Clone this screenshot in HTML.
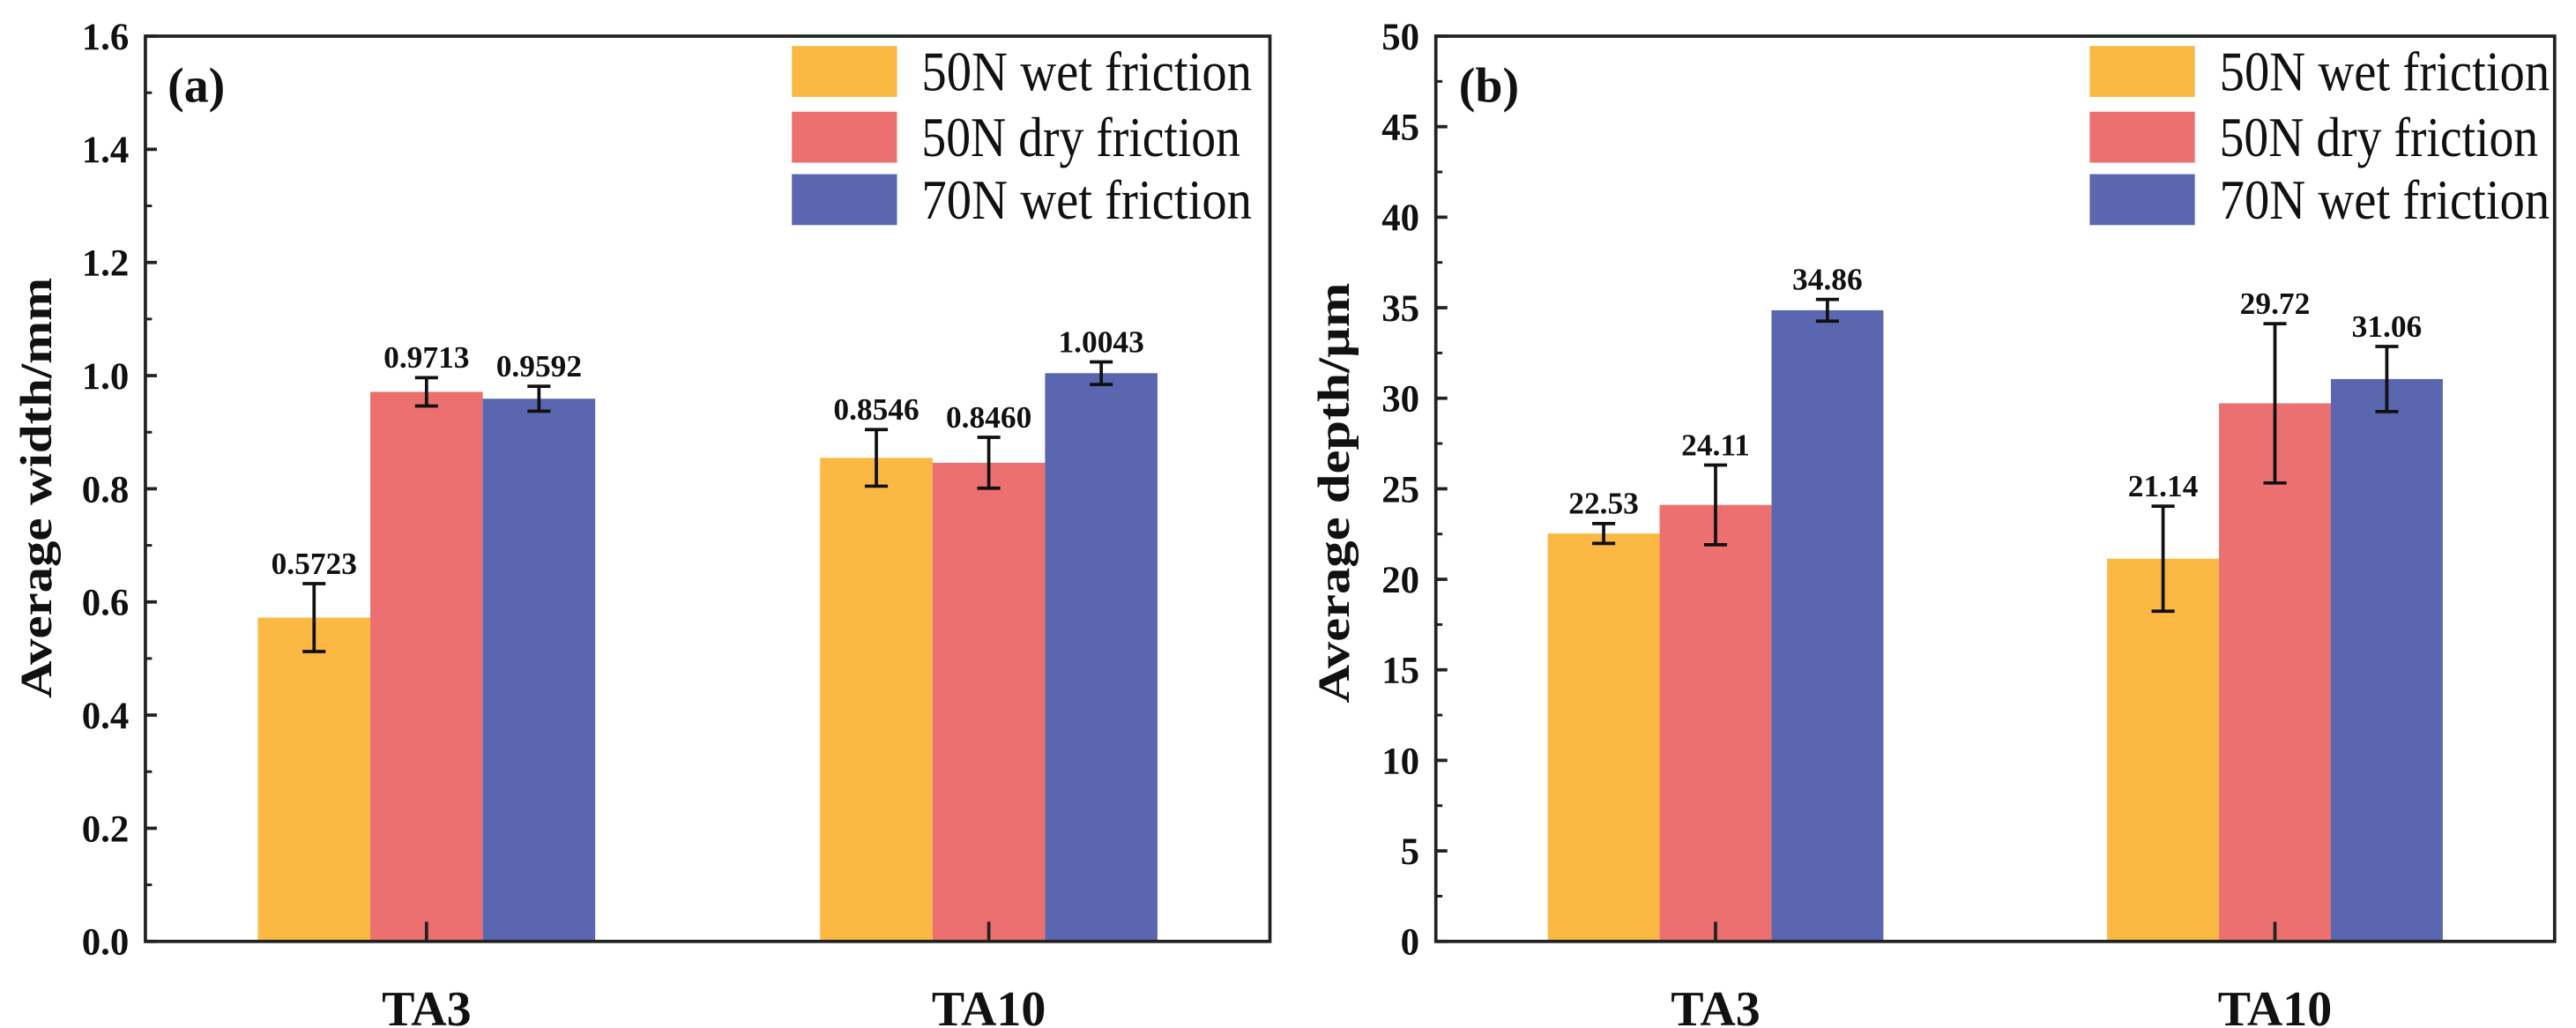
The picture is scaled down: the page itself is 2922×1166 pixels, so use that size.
<!DOCTYPE html>
<html><head><meta charset="utf-8"><style>
html,body{margin:0;padding:0;background:#fff;width:2922px;height:1166px;overflow:hidden}
svg{display:block}
text{font-family:"Liberation Serif",serif}
</style></head><body>
<svg id="chart" width="2922" height="1166" viewBox="0 0 1568 625.7" preserveAspectRatio="none" xmlns="http://www.w3.org/2000/svg"></svg>
<script>
const categories = ["TA3", "TA10"];
const seriesNames = ["50N wet friction", "50N dry friction", "70N wet friction"];
const seriesColors = ["#FBB843", "#EC7070", "#5A67B0"];
const widthValues = [[0.5723, 0.8546], [0.9713, 0.8460], [0.9592, 1.0043]];
const widthErrors = [[0.06, 0.05], [0.025, 0.045], [0.022, 0.02]];
const widthLabels = [["0.5723", "0.8546"], ["0.9713", "0.8460"], ["0.9592", "1.0043"]];
const depthValues = [[22.53, 21.14], [24.11, 29.72], [34.86, 31.06]];
const depthErrors = [[0.55, 2.9], [2.2, 4.4], [0.6, 1.8]];
const depthLabels = [["22.53", "21.14"], ["24.11", "29.72"], ["34.86", "31.06"]];
const widthTicks = ["0.0","0.2","0.4","0.6","0.8","1.0","1.2","1.4","1.6"];
const depthTicks = ["0","5","10","15","20","25","30","35","40","45","50"];

const NS = "http://www.w3.org/2000/svg";
const svg = document.getElementById("chart");
function mk(tag, attrs, parent, txt) {
  const e = document.createElementNS(NS, tag);
  for (const k in attrs) e.setAttribute(k, attrs[k]);
  if (txt !== undefined) e.textContent = txt;
  (parent || svg).appendChild(e);
  return e;
}

function panel(cfg) {
  const g = mk("g", {});
  
  
  const L = cfg.left, R = cfg.right, T = 22, B = 573;
  const W = R - L;
  const y = v => B - (v - cfg.min) / (cfg.max - cfg.min) * (B - T);
  const xc = i => L + W * (0.25 + 0.5 * i);
  const bw = W * 0.1;
  for (let s = 0; s < 3; s++) {
    for (let c = 0; c < categories.length; c++) {
      const v = cfg.values[s][c];
      const x0 = xc(c) + (s - 1) * bw - bw / 2;
      const r = mk("rect", {x: x0, y: y(v), width: bw, height: B - y(v), fill: seriesColors[s]}, g);
      
      
    }
  }
  for (let s = 0; s < 3; s++) {
    for (let c = 0; c < categories.length; c++) {
      const v = cfg.values[s][c], e = cfg.errors[s][c];
      const cx = xc(c) + (s - 1) * bw;
      const eb = mk("g", {stroke: "#111", "stroke-width": 2}, g);
      
      
      mk("line", {x1: cx, x2: cx, y1: y(v + e), y2: y(v - e)}, eb);
      mk("line", {x1: cx - 7, x2: cx + 7, y1: y(v + e), y2: y(v + e)}, eb);
      mk("line", {x1: cx - 7, x2: cx + 7, y1: y(v - e), y2: y(v - e)}, eb);
      const t = mk("text", {x: cx, y: y(v + e) - 6, "text-anchor": "middle", "font-size": 19, "font-weight": "bold", fill: "#111"}, g, cfg.labels[s][c]);
      
      
    }
  }
  const fr = mk("rect", {x: L, y: T, width: W, height: B - T, fill: "none", stroke: "#222", "stroke-width": 2}, g);
  
  
  const n = cfg.ticks.length;
  for (let i = 0; i < n; i++) {
    const v = cfg.min + (cfg.max - cfg.min) * i / (n - 1);
    mk("line", {x1: L, x2: L + 7, y1: y(v), y2: y(v), stroke: "#222", "stroke-width": 2}, g);
    if (i < n - 1) {
      const vm = v + (cfg.max - cfg.min) / (n - 1) / 2;
      mk("line", {x1: L, x2: L + 4, y1: y(vm), y2: y(vm), stroke: "#222", "stroke-width": 1.6}, g);
    }
    const t = mk("text", {x: L - 10, y: y(v) + 8, "text-anchor": "end", "font-size": 23, "font-weight": "bold", fill: "#111"}, g, cfg.ticks[i]);
    
    
  }
  for (let c = 0; c < categories.length; c++) {
    mk("line", {x1: xc(c), x2: xc(c), y1: B, y2: B - 12, stroke: "#222", "stroke-width": 2}, g);
    const t = mk("text", {x: xc(c), y: 624, "text-anchor": "middle", "font-size": 30, "font-weight": "bold", fill: "#111"}, g, categories[c]);
    
    
  }
  const yt = mk("text", {x: 0, y: 0, transform: `translate(${cfg.titleX},${cfg.titleY}) rotate(-90)`, "text-anchor": "middle", "font-size": 27, "font-weight": "bold", fill: "#111", textLength: 256, lengthAdjust: "spacingAndGlyphs"}, g, cfg.title);
  
  
  const pl = mk("text", {x: cfg.tagX, y: 62, "font-size": 30, "font-weight": "bold", fill: "#111"}, g, cfg.tag);
  
  
  const tops = [28, 68, 106];
  for (let s = 0; s < 3; s++) {
    const lg = mk("g", {}, g);
    
    
    mk("rect", {x: cfg.legX, y: tops[s], width: 64, height: 31, fill: seriesColors[s]}, lg);
    mk("text", {x: cfg.legX + 79, y: tops[s] + 27, "font-size": 34, fill: "#111", textLength: s === 1 ? 194 : 201, lengthAdjust: "spacingAndGlyphs"}, lg, seriesNames[s]);
  }
}

panel({name: "width-chart", left: 88.5, right: 773, min: 0, max: 1.6, values: widthValues, errors: widthErrors, labels: widthLabels, ticks: widthTicks, title: "Average width/mm", titleX: 31, titleY: 297, tag: "(a)", tagX: 102, legX: 482});
panel({name: "depth-chart", left: 874, right: 1555, min: 0, max: 50, values: depthValues, errors: depthErrors, labels: depthLabels, ticks: depthTicks, title: "Average depth/µm", titleX: 821, titleY: 300, tag: "(b)", tagX: 888, legX: 1272});
</script>
</body></html>
